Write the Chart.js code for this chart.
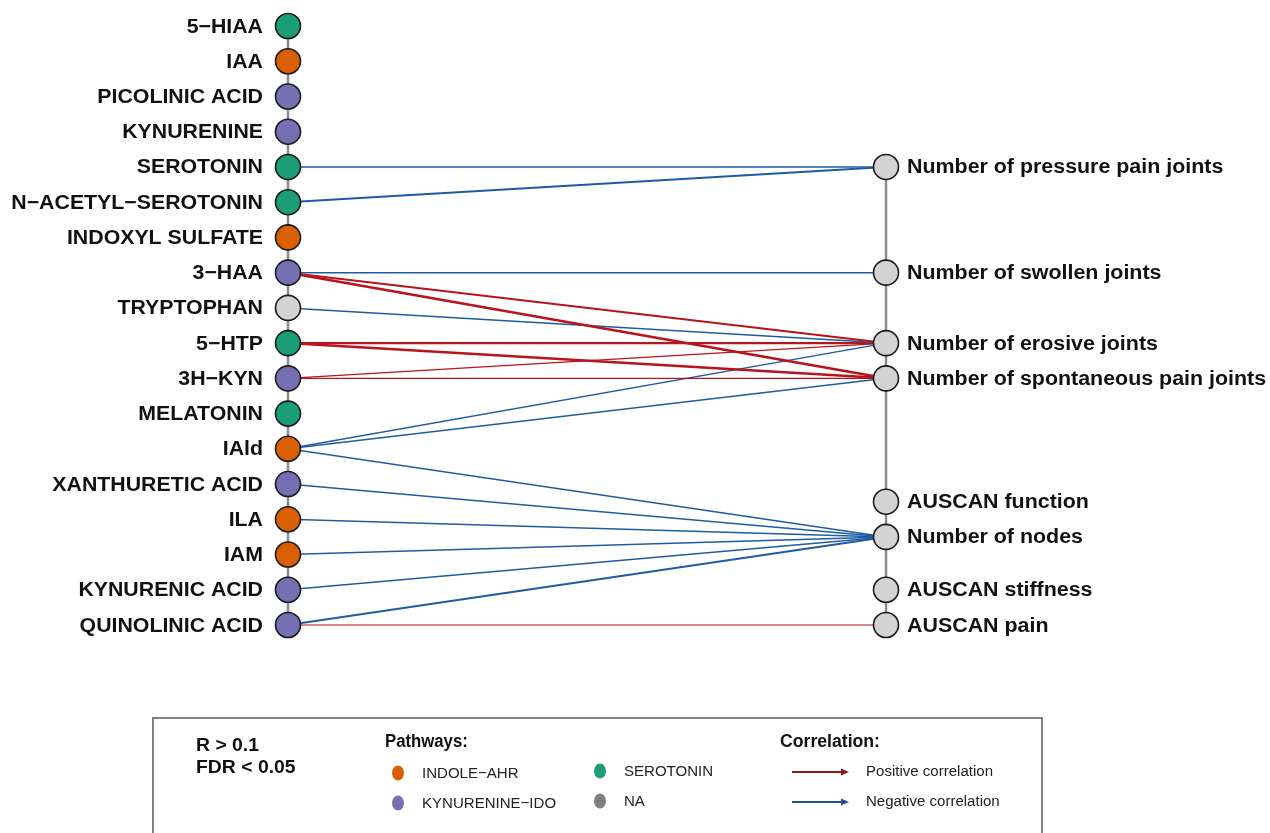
<!DOCTYPE html>
<html>
<head>
<meta charset="utf-8">
<script src="https://cdn.jsdelivr.net/npm/chart.js@4/dist/chart.umd.min.js"></script>
<style>
  html, body { margin: 0; padding: 0; background: #fff; }
  #wrap { width: 1270px; height: 833px; }
</style>
</head>
<body>
<div id="wrap"><canvas id="net" width="1270" height="833"></canvas></div>
<script>
// metabolites (left column, top to bottom) and their pathway
const metabolites = ['5−HIAA', 'IAA', 'PICOLINIC ACID', 'KYNURENINE', 'SEROTONIN', 'N−ACETYL−SEROTONIN',
  'INDOXYL SULFATE', '3−HAA', 'TRYPTOPHAN', '5−HTP', '3H−KYN', 'MELATONIN', 'IAld',
  'XANTHURETIC ACID', 'ILA', 'IAM', 'KYNURENIC ACID', 'QUINOLINIC ACID'];
const pathways = ['SEROTONIN', 'INDOLE', 'KYN', 'KYN', 'SEROTONIN', 'SEROTONIN',
  'INDOLE', 'KYN', 'NA', 'SEROTONIN', 'KYN', 'SEROTONIN', 'INDOLE',
  'KYN', 'INDOLE', 'INDOLE', 'KYN', 'KYN'];

// clinical variables (right column) and their slot on the same vertical scale
const clinical = ['Number of pressure pain joints', 'Number of swollen joints', 'Number of erosive joints',
  'Number of spontaneous pain joints', 'AUSCAN function', 'Number of nodes', 'AUSCAN stiffness', 'AUSCAN pain'];
const clinicalSlot = [4, 7, 9, 10, 13.5, 14.5, 16, 17];

// significant correlations: metabolite index, clinical index, sign, strength
const edgeFrom = [4, 5, 7, 7, 7, 8, 9, 9, 10, 10, 12, 12, 12, 13, 14, 15, 16, 17, 17];
const edgeTo   = [0, 0, 1, 2, 3, 2, 2, 3, 2, 3, 2, 3, 5, 5, 5, 5, 5, 5, 7];
const edgeSign = [-1, -1, -1, 1, 1, -1, 1, 1, 1, 1, -1, -1, -1, -1, -1, -1, -1, -1, 1];
const edgeR    = [0.15, 0.2, 0.15, 0.2, 0.25, 0.15, 0.22, 0.25, 0.13, 0.13, 0.15, 0.15, 0.15, 0.15, 0.15, 0.15, 0.15, 0.2, 0.12];

const pathColors = { SEROTONIN: '#1b9e77', INDOLE: '#d95f02', KYN: '#7570b3', NA: '#d3d3d3' };
const POS = '#b8141c', NEG = '#1f5ba3';

const datasets = [];
edgeFrom.forEach((f, i) => {
  datasets.push({
    type: 'line',
    data: [{ x: 0, y: f }, { x: 1, y: clinicalSlot[edgeTo[i]] }],
    borderColor: edgeSign[i] > 0 ? POS : NEG,
    borderWidth: edgeR[i] * 10,
    pointRadius: 0,
    clip: false,
    order: 1
  });
});
// spines
datasets.push({ type: 'line', data: [{ x: 0, y: 0 }, { x: 0, y: metabolites.length - 1 }],
  borderColor: '#8c8c8c', borderWidth: 2.5, pointRadius: 0, clip: false, order: 2 });
datasets.push({ type: 'line', data: [{ x: 1, y: clinicalSlot[0] }, { x: 1, y: clinicalSlot[clinicalSlot.length - 1] }],
  borderColor: '#8c8c8c', borderWidth: 2.5, pointRadius: 0, clip: false, order: 2 });
// nodes
datasets.push({ type: 'scatter', data: metabolites.map((m, i) => ({ x: 0, y: i })),
  pointRadius: 12.5, pointBackgroundColor: pathways.map(p => pathColors[p]),
  pointBorderColor: '#1a1a1a', pointBorderWidth: 1.6, clip: false, order: 0 });
datasets.push({ type: 'scatter', data: clinicalSlot.map(s => ({ x: 1, y: s })),
  pointRadius: 12.5, pointBackgroundColor: '#d3d3d3',
  pointBorderColor: '#1a1a1a', pointBorderWidth: 1.6, clip: false, order: 0 });

// text with a horizontal stretch (the original font is a bit wider)
function txt(c, s, x, y, sx, align) {
  c.save();
  c.translate(x, y);
  c.scale(sx, 1);
  c.textAlign = align || 'left';
  c.fillText(s, 0, 0);
  c.restore();
}

const labelPlugin = {
  id: 'labels',
  afterDatasetsDraw(chart) {
    const c = chart.ctx, xs = chart.scales.x, ys = chart.scales.y;
    c.save();
    c.fillStyle = '#111';
    c.font = 'bold 20px "Liberation Sans", Arial, sans-serif';
    c.textBaseline = 'middle';
    metabolites.forEach((m, i) => txt(c, m, xs.getPixelForValue(0) - 25, ys.getPixelForValue(i) + 1, 1.065, 'right'));
    clinical.forEach((m, i) => txt(c, m, xs.getPixelForValue(1) + 21, ys.getPixelForValue(clinicalSlot[i]) + 1, 1.07, 'left'));

    // legend box
    c.strokeStyle = '#808080';
    c.lineWidth = 2;
    c.strokeRect(153, 718, 889, 140);
    c.fillStyle = '#111';
    c.font = 'bold 19px "Liberation Sans", Arial, sans-serif';
    txt(c, 'R > 0.1', 196, 746, 1.02);
    txt(c, 'FDR < 0.05', 196, 768, 1.02);
    c.font = 'bold 18px "Liberation Sans", Arial, sans-serif';
    txt(c, 'Pathways:', 385, 742, 0.93);
    txt(c, 'Correlation:', 780, 742, 0.98);
    c.font = '15.5px "Liberation Sans", Arial, sans-serif';
    const items = [['INDOLE−AHR', pathColors.INDOLE, 398, 773], ['SEROTONIN', pathColors.SEROTONIN, 600, 771],
      ['KYNURENINE−IDO', pathColors.KYN, 398, 803], ['NA', '#808080', 600, 801]];
    items.forEach(([t, col, x, y]) => {
      c.fillStyle = col;
      c.beginPath();
      c.ellipse(x, y, 6, 7.5, 0, 0, Math.PI * 2);
      c.fill();
      c.fillStyle = '#222';
      txt(c, t, x + 24, y + 1, 0.97);
    });
    [['Positive correlation', '#8b1a1a', 772], ['Negative correlation', '#244f9c', 802]].forEach(([t, col, y]) => {
      c.strokeStyle = col;
      c.fillStyle = col;
      c.lineWidth = 2;
      c.beginPath();
      c.moveTo(792, y);
      c.lineTo(843, y);
      c.stroke();
      c.beginPath();
      c.moveTo(849, y);
      c.lineTo(841, y - 3.5);
      c.lineTo(841, y + 3.5);
      c.closePath();
      c.fill();
      c.fillStyle = '#222';
      txt(c, t, 866, y, 0.97);
    });
    c.restore();
  }
};

new Chart(document.getElementById('net'), {
  type: 'scatter',
  data: { datasets },
  options: {
    responsive: false,
    animation: false,
    devicePixelRatio: 1,
    layout: { padding: { left: 288, right: 384, top: 26, bottom: 208 } },
    plugins: { legend: { display: false }, tooltip: { enabled: false } },
    scales: {
      x: { type: 'linear', min: 0, max: 1, display: false },
      y: { type: 'linear', min: 0, max: metabolites.length - 1, reverse: true, display: false }
    }
  },
  plugins: [labelPlugin]
});
</script>
</body>
</html>
